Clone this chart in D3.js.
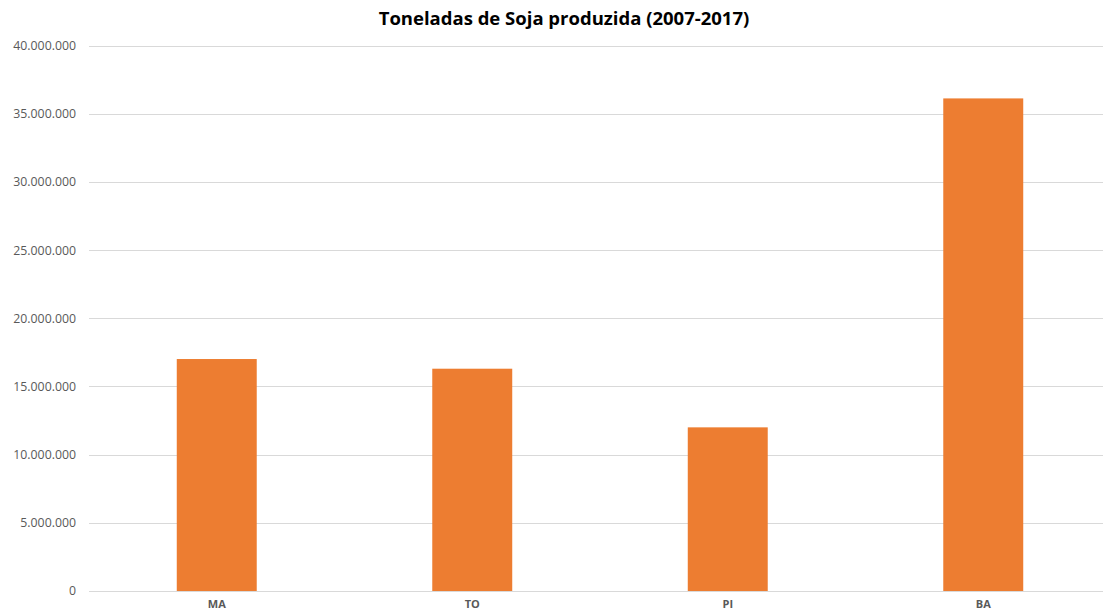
<!DOCTYPE html>
<html><head><meta charset="utf-8">
<script src="https://cdn.jsdelivr.net/npm/d3@7"></script>
<style>body{margin:0;background:#fff;} svg{display:block;}</style>
</head><body>
<svg id="c" width="1103" height="615"></svg>
<script>
const categories = ["MA", "TO", "PI", "BA"];
const values = [17010000, 16300000, 12000000, 36120000];
const yTicks = [0, 5000000, 10000000, 15000000, 20000000, 25000000, 30000000, 35000000, 40000000];
const title = "Toneladas de Soja produzida (2007-2017)";

(function () {
const svg = d3.select("#c");
const mLeft = 89, mRight = 1111, mTop = 45.5, mBottom = 591;
const x = d3.scaleBand().domain(categories).range([mLeft, mRight]).paddingInner(0.687).paddingOuter(0.3435);
const y = d3.scaleLinear().domain([0, 40000000]).range([mBottom, mTop]);
const fmt = v => d3.format(",")(v).replace(/,/g, ".");

const font = "'Open Sans', 'Liberation Sans', sans-serif";

svg.append("g").selectAll("line").data(yTicks).join("line")
  .attr("x1", mLeft).attr("x2", 1103)
  .attr("y1", d => Math.round(y(d)) + 0.5).attr("y2", d => Math.round(y(d)) + 0.5)
  .attr("stroke", "#d9d9d9").attr("stroke-width", 1);

const yAxis = d3.axisLeft(y).tickValues(yTicks).tickFormat(fmt).tickSize(0).tickPadding(0);
const gy = svg.append("g").attr("transform", "translate(76,0)").call(yAxis);
gy.select(".domain").remove();
gy.selectAll("text").attr("fill", "#595959").style("font-family", font).style("font-size", "12.3px");

svg.append("g").selectAll("rect").data(categories).join("rect")
  .attr("x", d => x(d)).attr("width", x.bandwidth())
  .attr("y", (d, i) => y(values[i])).attr("height", (d, i) => mBottom - y(values[i]))
  .attr("fill", "#ED7D31");

const xAxis = d3.axisBottom(x).tickSize(0).tickPadding(0);
const gx = svg.append("g").attr("transform", `translate(0,${mBottom + 9.5})`).call(xAxis);
gx.select(".domain").remove();
gx.selectAll("text").attr("fill", "#595959").style("font-family", font).style("font-size", "11px").style("font-weight", "bold");

svg.append("text").attr("x", 564).attr("y", 25).attr("text-anchor", "middle")
  .style("font-family", font).style("font-size", "18.5px").style("font-weight", "bold").attr("fill", "#000")
  .text(title);
})();
</script>
</body></html>
